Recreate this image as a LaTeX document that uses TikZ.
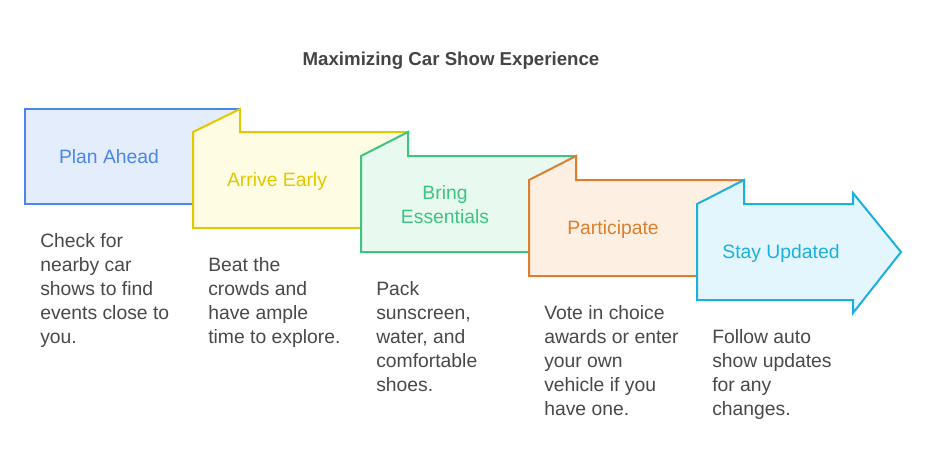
\documentclass[tikz,border=0pt]{standalone}
\usepackage{fontspec}
\setmainfont{Liberation Sans}
\usetikzlibrary{positioning}
\definecolor{titlegray}{RGB}{68, 68, 68}
\definecolor{notegray}{RGB}{72, 72, 72}
\definecolor{planline}{RGB}{74, 134, 232}
\definecolor{planfill}{RGB}{227, 237, 252}
\definecolor{arriveline}{RGB}{227, 200, 0}
\definecolor{arrivefill}{RGB}{254, 252, 227}
\definecolor{bringline}{RGB}{60, 196, 128}
\definecolor{bringfill}{RGB}{232, 249, 240}
\definecolor{partline}{RGB}{219, 127, 46}
\definecolor{partfill}{RGB}{253, 240, 227}
\definecolor{stayline}{RGB}{26, 176, 224}
\definecolor{stayfill}{RGB}{227, 246, 253}

\begin{document}
\begin{tikzpicture}[x=0.75pt, y=-0.75pt,
    card/.style={line width=1.5pt, line join=miter},
    steplabel/.style={font=\fontsize{14.5}{18}\selectfont, align=center},
    stepnote/.style={font=\fontsize{14.5}{18}\selectfont, text=notegray, align=left, anchor=north west, inner sep=0pt}
]
\useasboundingbox (0,0) rectangle (927,471);

% Titolo
\node[font=\fontsize{14}{16}\selectfont\bfseries, text=titlegray] (title) at (451,61) {Maximizing Car Show Experience};

% Plan Ahead
\draw[card, draw=planline, fill=planfill] (25,109) rectangle (240,204);
\node[steplabel, text=planline] (plan) at (109,157) {Plan Ahead};

% Arrive Early
\draw[card, draw=arriveline, fill=arrivefill] (193,132) -- (240,109) -- (240,132) -- (408,132) -- (408,228) -- (193,228) -- cycle;
\node[steplabel, text=arriveline] (arrive) at (277,181) {Arrive Early};

% Bring Essentials
\draw[card, draw=bringline, fill=bringfill] (361,156) -- (408,132) -- (408,156) -- (576,156) -- (576,252) -- (361,252) -- cycle;
\node[steplabel, text=bringline] (bring) at (445,205) {Bring\\Essentials};

% Participate
\draw[card, draw=partline, fill=partfill] (529,180) -- (576,156) -- (576,180) -- (744,180) -- (744,276) -- (529,276) -- cycle;
\node[steplabel, text=partline] (part) at (613,229) {Participate};

% Stay Updated
\draw[card, draw=stayline, fill=stayfill] (697,204) -- (744,180) -- (744,204) -- (853,204) -- (853,193) -- (901,252) -- (853,313) -- (853,300) -- (697,300) -- cycle;
\node[steplabel, text=stayline] (stay) at (781,253) {Stay Updated};

% Note
\node[stepnote] (plannote) at (40,233) {Check for\\nearby car\\shows to find\\events close to\\you.};
\node[stepnote] (arrivenote) at (208,257) {Beat the\\crowds and\\have ample\\time to explore.};
\node[stepnote] (bringnote) at (376,281) {Pack\\sunscreen,\\water, and\\comfortable\\shoes.};
\node[stepnote] (partnote) at (544,305) {Vote in choice\\awards or enter\\your own\\vehicle if you\\have one.};
\node[stepnote] (staynote) at (712,329) {Follow auto\\show updates\\for any\\changes.};

\end{tikzpicture}
\end{document}
